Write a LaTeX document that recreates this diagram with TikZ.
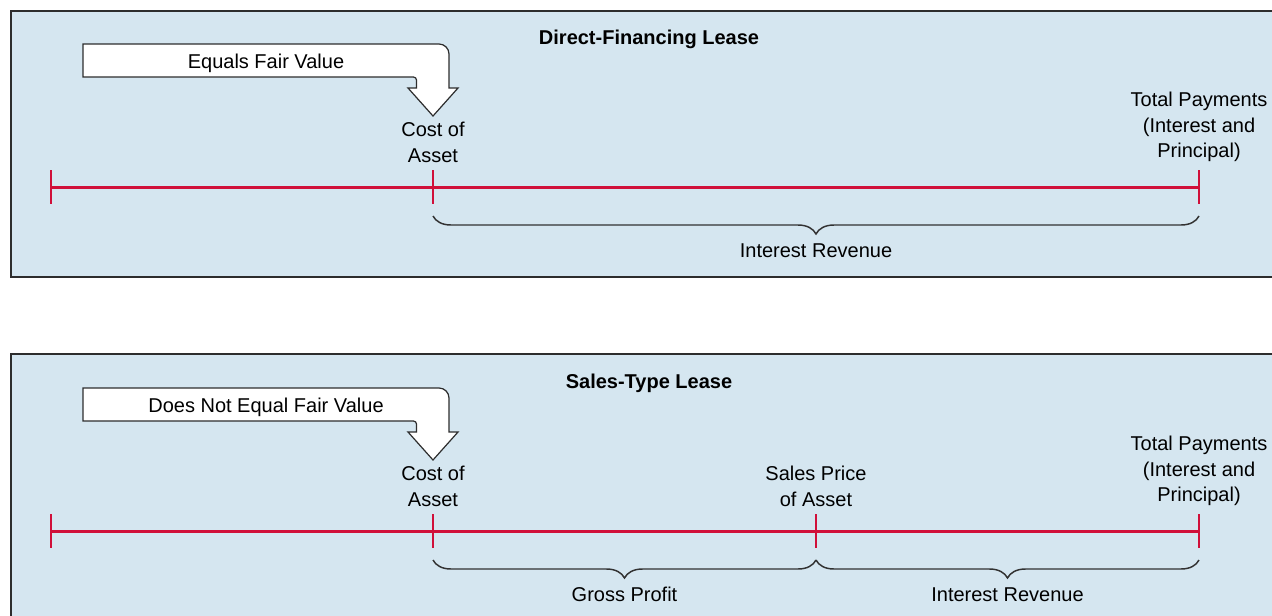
\documentclass[tikz,border=0pt]{standalone}
\usepackage{fontspec}
\setmainfont{Liberation Sans}
\usetikzlibrary{decorations.pathreplacing}
\definecolor{panel}{RGB}{213,230,240}
\definecolor{framegray}{RGB}{45,45,45}
\definecolor{bracegray}{RGB}{50,50,50}
\definecolor{linered}{RGB}{208,16,58}
\begin{document}
\begin{tikzpicture}[x=0.75pt,y=-0.75pt,
  panelbox/.style={fill=panel,draw=framegray,line width=1.5pt},
  lbl/.style={font=\fontsize{15}{19}\selectfont,inner sep=0pt,anchor=base,align=center},
  ttl/.style={font=\bfseries\fontsize{15}{19}\selectfont,inner sep=0pt,anchor=base},
  timeline/.style={draw=linered,line width=2.25pt},
  tickmark/.style={draw=linered,line width=1.1pt},
  bracket/.style={draw=bracegray,line width=1.1pt,decorate,decoration={brace,mirror,amplitude=13.5pt}},
  callout/.style={fill=white,draw=framegray,line width=0.9pt,line join=miter},
  callout arrow/.pic={
    \path[callout] (83,44) -- (439,44) arc[start angle=90,end angle=0,radius=7.5pt]
      -- (449,88) -- (458,88) -- (433,116) -- (408,88) -- (416.5,88) -- (416.5,80)
      arc[start angle=0,end angle=90,radius=2.25pt] -- (83,77) -- cycle;
  }]
\useasboundingbox (0,0) rectangle (1272,615);
\clip (0,0) rectangle (1272,615);

% ---------- top panel ----------
\path[panelbox] (11,11) rectangle (1345,277);
\pic at (0,0) {callout arrow};
\node[ttl] (title1) at (649,44) {Direct-Financing Lease};
\node[lbl] (fair1) at (266,68) {Equals Fair Value};
\node[lbl] (cost1) at (433,162) {Cost of\\Asset};
\node[lbl] (total1) at (1199,157.5) {Total Payments\\(Interest and\\Principal)};

\coordinate (a0) at (51,187);
\coordinate (a1) at (433,187);
\coordinate (a3) at (1199,187);
\draw[timeline] (a0) -- (a3);
\foreach \p in {a0,a1,a3} \draw[tickmark] (\p) ++(0,-17) -- ++(0,34);

\coordinate (ba1) at (433,216);
\coordinate (ba3) at (1199,216);
\draw[bracket] (ba1) -- (ba3);
\node[lbl] (int1) at (816,257) {Interest Revenue};

% ---------- bottom panel ----------
\path[panelbox] (11,354) rectangle (1345,660);
\pic at (0,344) {callout arrow};
\node[ttl] (title2) at (649,388) {Sales-Type Lease};
\node[lbl] (fair2) at (266,412) {Does Not Equal Fair Value};
\node[lbl] (cost2) at (433,506) {Cost of\\Asset};
\node[lbl] (price2) at (816,506) {Sales Price\\of Asset};
\node[lbl] (total2) at (1199,501.5) {Total Payments\\(Interest and\\Principal)};

\coordinate (c0) at (51,531);
\coordinate (c1) at (433,531);
\coordinate (c2) at (816,531);
\coordinate (c3) at (1199,531);
\draw[timeline] (c0) -- (c3);
\foreach \p in {c0,c1,c2,c3} \draw[tickmark] (\p) ++(0,-17) -- ++(0,34);

\coordinate (bc1) at (433,560);
\coordinate (bc2) at (816,560);
\coordinate (bc3) at (1199,560);
\draw[bracket] (bc1) -- (bc2);
\draw[bracket] (bc2) -- (bc3);
\node[lbl] (gross2) at (624.5,601) {Gross Profit};
\node[lbl] (int2) at (1007.5,601) {Interest Revenue};
\end{tikzpicture}
\end{document}
